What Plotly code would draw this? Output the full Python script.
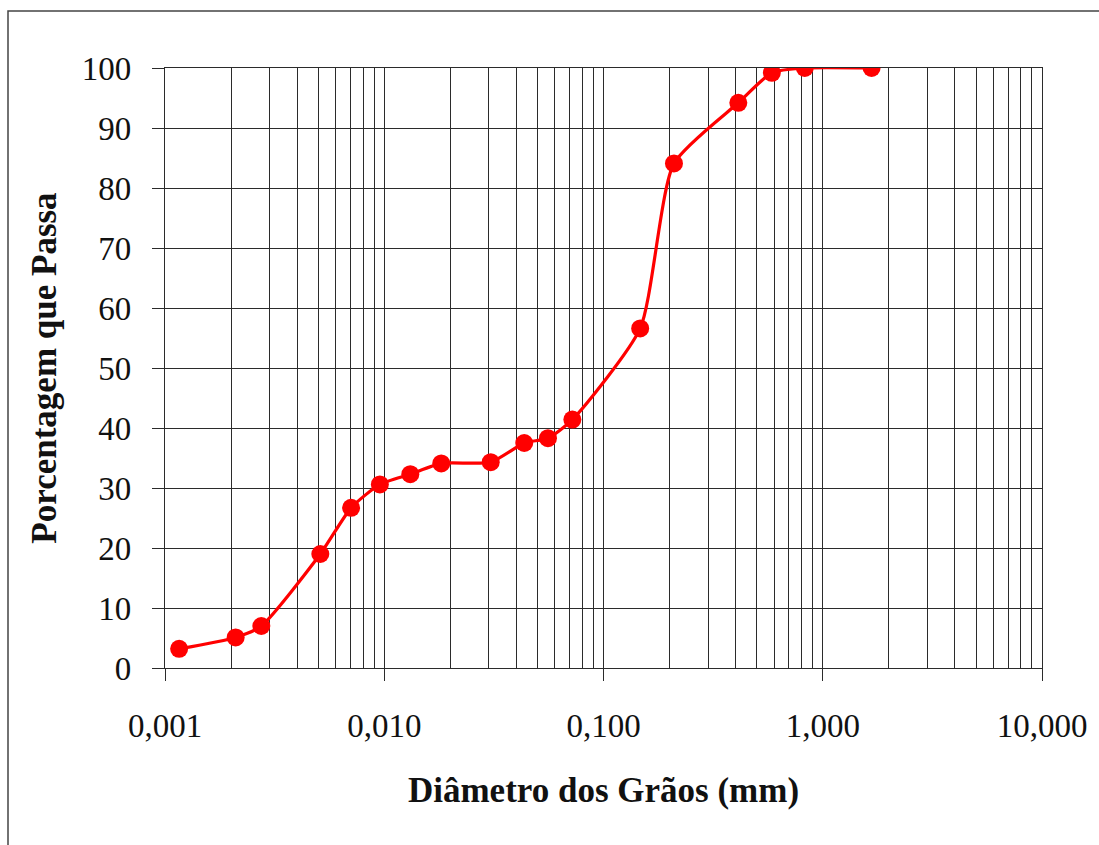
import plotly.graph_objects as go

# Grain-size distribution (particle diameter in mm vs. percent passing)
diametro_mm = [0.00116, 0.0021, 0.00275, 0.00511, 0.00706, 0.00955,
               0.01315, 0.0182, 0.0306, 0.0435, 0.0558, 0.0721,
               0.147, 0.2096, 0.412, 0.586, 0.828, 1.67]
porcentagem_passa = [3.2, 5.1, 7.0, 19.0, 26.7, 30.6,
                     32.3, 34.1, 34.3, 37.5, 38.3, 41.4,
                     56.6, 84.1, 94.2, 99.2, 100.0, 100.0]

x_tick_vals = [0.001, 0.01, 0.1, 1, 10]
x_tick_text = ["0,001", "0,010", "0,100", "1,000", "10,000"]
y_tick_vals = [0, 10, 20, 30, 40, 50, 60, 70, 80, 90, 100]

W, H = 1099, 845
ML, MR, MT, MB = 165, 57, 68, 177
plot_w = W - ML - MR
plot_h = H - MT - MB

grid_color = "#2b2b2b"
serif = "Liberation Serif, Times New Roman, serif"

fig = go.Figure()
fig.add_trace(go.Scatter(
    x=diametro_mm,
    y=porcentagem_passa,
    mode="lines+markers",
    line=dict(color="#ff0000", width=3.2, shape="spline", smoothing=0.6),
    marker=dict(color="#ff0000", size=18),
    showlegend=False,
))

# Outer frame around the whole chart
fig.add_shape(
    type="rect", xref="paper", yref="paper",
    x0=(8 - ML) / plot_w, x1=(W + 10 - ML) / plot_w,
    y0=(H - MB - (H + 10)) / plot_h, y1=(H - MB - 11) / plot_h,
    line=dict(color="#444444", width=1.5),
    fillcolor="rgba(0,0,0,0)", layer="below",
)

fig.update_xaxes(
    type="log",
    range=[-3, 1],
    tickvals=x_tick_vals,
    ticktext=x_tick_text,
    ticks="outside", ticklen=12, tickwidth=1.3, tickcolor=grid_color,
    showgrid=True, gridcolor=grid_color, gridwidth=1.3,
    minor=dict(dtick="D1", showgrid=True, gridcolor=grid_color,
               gridwidth=1.3, ticks=""),
    showline=True, linecolor=grid_color, linewidth=1.3, mirror=True,
    tickfont=dict(family=serif, size=33, color="#111111"),
    ticklabelstandoff=16,
    title=dict(text="<b>Diâmetro dos Grãos (mm)</b>",
               font=dict(family=serif, size=35, color="#111111"),
               standoff=34),
    zeroline=False,
)
fig.update_yaxes(
    range=[0, 100],
    tickvals=y_tick_vals,
    ticks="outside", ticklen=12, tickwidth=1.3, tickcolor=grid_color,
    showgrid=True, gridcolor=grid_color, gridwidth=1.3,
    showline=True, linecolor=grid_color, linewidth=1.3, mirror=True,
    tickfont=dict(family=serif, size=33, color="#111111"),
    ticklabelstandoff=14,
    title=dict(text="<b>Porcentagem que Passa</b>",
               font=dict(family=serif, size=35, color="#111111"),
               standoff=14),
    zeroline=False,
)

fig.update_layout(
    width=W, height=H,
    margin=dict(l=ML, r=MR, t=MT, b=MB, autoexpand=False),
    paper_bgcolor="white",
    plot_bgcolor="white",
)

fig.write_html("out.html")
